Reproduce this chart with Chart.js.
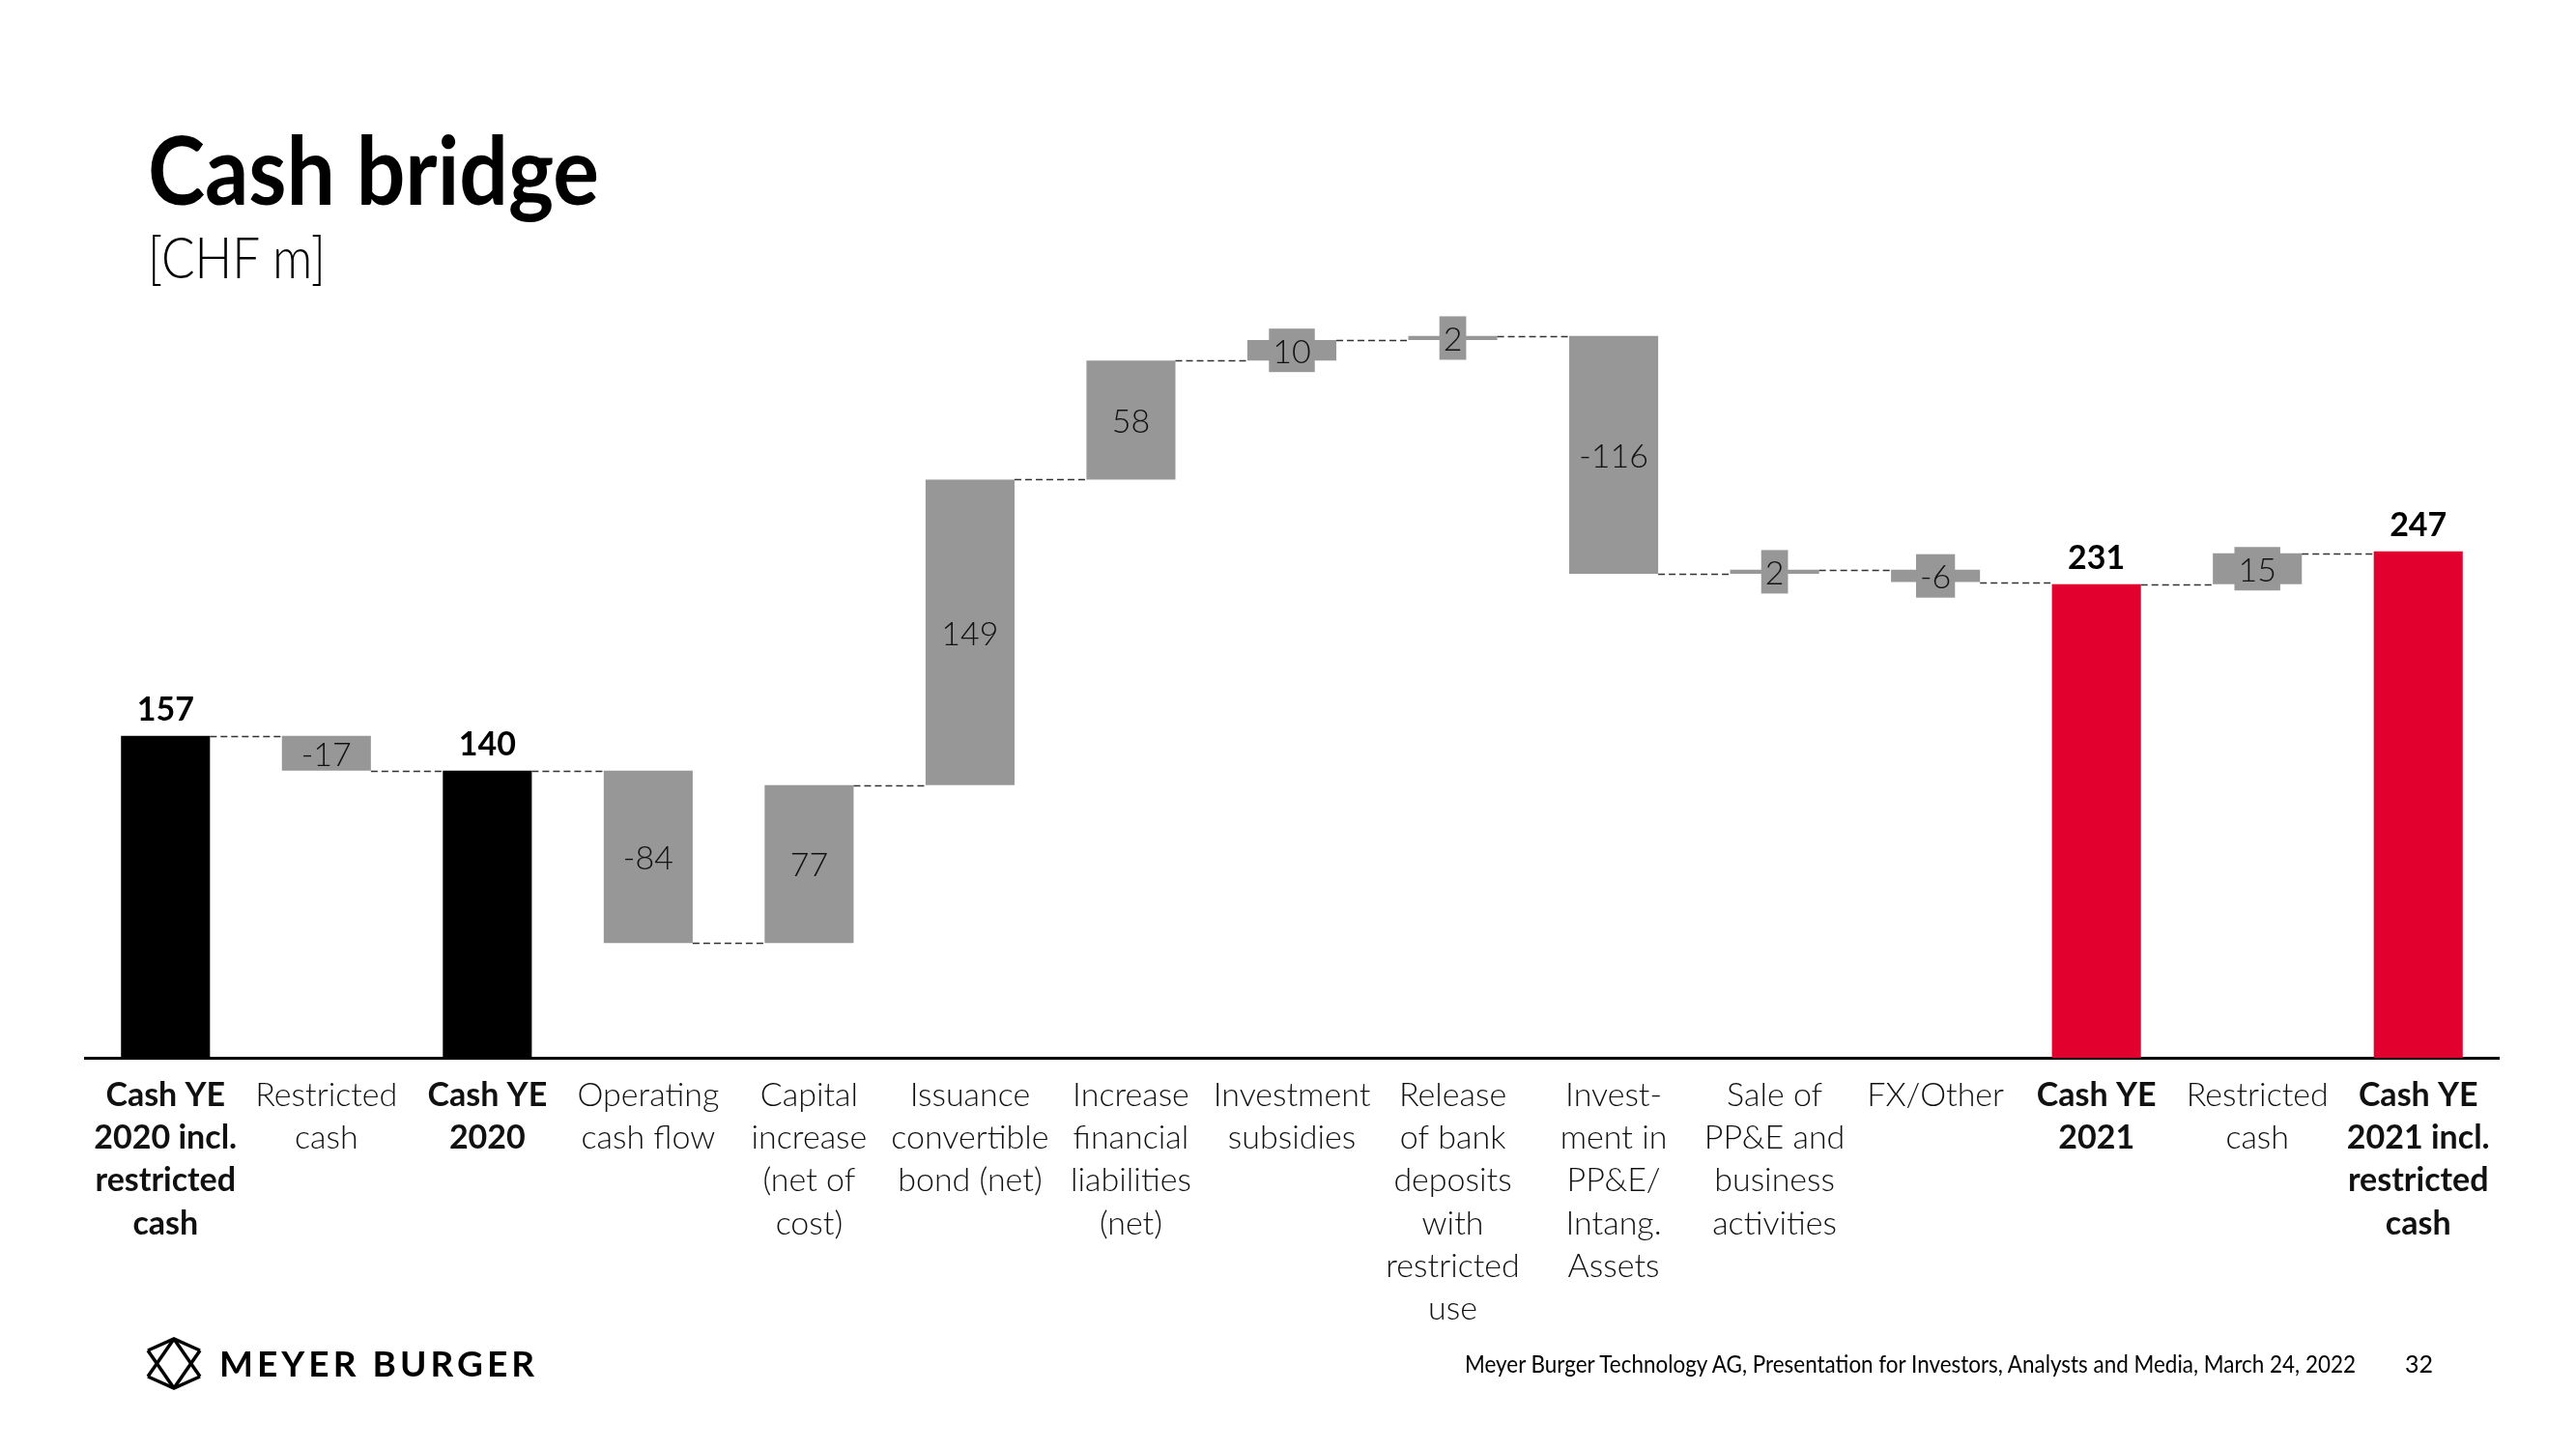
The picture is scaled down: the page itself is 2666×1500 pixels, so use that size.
<!DOCTYPE html>
<html>
<head>
<meta charset="utf-8">
<script src="https://cdn.jsdelivr.net/npm/chart.js@4.4.1/dist/chart.umd.min.js"></script>
<style>
  html, body { margin: 0; padding: 0; background: #fff; }
  #page { position: relative; width: 2666px; height: 1500px; overflow: hidden; }
  #chartBox { position: absolute; left: 0; top: 0; width: 2666px; height: 1500px; }
  #overlay { position: absolute; left: 0; top: 0; pointer-events: none; }
</style>
</head>
<body>
<div id="page">
  <div id="chartBox"><canvas id="bridgeChart"></canvas></div>
  <svg id="overlay" width="2666" height="1500">
    <text x="153" y="212" font-family="Lato" font-weight="700" font-size="97" fill="#000" textLength="467" lengthAdjust="spacingAndGlyphs">Cash bridge</text>
    <text x="153" y="288" font-family="Lato" font-weight="300" font-size="60" fill="#000" textLength="184" lengthAdjust="spacingAndGlyphs">[CHF m]</text>
    <g fill="none" stroke="#000" stroke-width="3.5" stroke-linejoin="miter">
      <polyline points="153,1398 180,1386 207,1398"/>
      <polyline points="153,1425 180,1437 207,1425"/>
      <line x1="153" y1="1398" x2="180" y2="1437"/>
      <line x1="180" y1="1386" x2="153" y2="1425"/>
      <line x1="180" y1="1386" x2="207" y2="1425"/>
      <line x1="207" y1="1398" x2="180" y2="1437"/>
    </g>
    <text x="227" y="1425" font-family="Lato" font-weight="700" font-size="37" fill="#000" textLength="326" lengthAdjust="spacing">MEYER BURGER</text>
    <text x="1516" y="1421" font-family="Lato" font-weight="400" font-size="25" fill="#000" textLength="922" lengthAdjust="spacingAndGlyphs">Meyer Burger Technology AG, Presentation for Investors, Analysts and Media, March 24, 2022</text>
    <text x="2489" y="1421" font-family="Lato" font-weight="400" font-size="25" fill="#000">32</text>
  </svg>
</div>
<script>
// categories (multi-line x labels)
const categories = [
    ['Cash YE', '2020 incl.', 'restricted', 'cash'],
    ['Restricted', 'cash'],
    ['Cash YE', '2020'],
    ['Operating', 'cash flow'],
    ['Capital', 'increase', '(net of', 'cost)'],
    ['Issuance', 'convertible', 'bond (net)'],
    ['Increase', 'financial', 'liabilities', '(net)'],
    ['Investment', 'subsidies'],
    ['Release', 'of bank', 'deposits', 'with', 'restricted', 'use'],
    ['Invest-', 'ment in', 'PP&E/', 'Intang.', 'Assets'],
    ['Sale of', 'PP&E and', 'business', 'activities'],
    ['FX/Other'],
    ['Cash YE', '2021'],
    ['Restricted', 'cash'],
    ['Cash YE', '2021 incl.', 'restricted', 'cash']
];

// CHF m: totals are absolute levels, the rest are changes
const values = [157, -17, 140, -84, 77, 149, 58, 10, 2, -116, 2, -6, 231, 15, 247];
const isTotal = [true, false, true, false, false, false, false, false, false, false, false, false, true, false, true];
const totalYear = [2020, null, 2020, null, null, null, null, null, null, null, null, null, 2021, null, 2021];

const yMin = 0;
const yMax = 375;

// build floating bars
const bars = [];
const ends = [];
let running = 0;
values.forEach((v, i) => {
    if (isTotal[i]) {
        bars.push([0, v]);
        running = v;
    } else {
        bars.push([running, running + v]);
        running += v;
    }
    ends.push(running);
});

const colors = values.map((v, i) => {
    if (!isTotal[i]) return '#979797';
    return totalYear[i] === 2021 ? '#e2002f' : '#000000';
});

const FONT = 'Lato';
const GRAY = '#979797';

const bridgePlugin = {
    id: 'bridge',
    afterDatasetsDraw(chart) {
        const ctx = chart.ctx;
        const yScale = chart.scales.y;
        const meta = chart.getDatasetMeta(0);

        // dashed connectors
        ctx.save();
        ctx.setLineDash([7, 4]);
        ctx.strokeStyle = '#333';
        ctx.lineWidth = 1.5;
        for (let i = 0; i < meta.data.length - 1; i++) {
            const a = meta.data[i].getProps(['x', 'width'], true);
            const b = meta.data[i + 1].getProps(['x', 'width'], true);
            const level = Math.round(yScale.getPixelForValue(ends[i])) + 0.5;
            ctx.beginPath();
            ctx.moveTo(a.x + a.width / 2, level);
            ctx.lineTo(b.x - b.width / 2, level);
            ctx.stroke();
        }
        ctx.restore();

        // value labels
        ctx.save();
        ctx.textAlign = 'center';
        ctx.textBaseline = 'middle';
        meta.data.forEach((el, i) => {
            const p = el.getProps(['x', 'y', 'base'], true);
            const label = String(values[i]);
            if (isTotal[i]) {
                ctx.font = 'bold 34px ' + FONT;
                ctx.fillStyle = '#000';
                ctx.fillText(label, p.x, Math.min(p.y, p.base) - 27);
            } else {
                ctx.font = '300 34px ' + FONT;
                const cy = (p.y + p.base) / 2;
                const h = Math.abs(p.base - p.y);
                // small bars get a gray box behind the number
                if (h < 34) {
                    const w = ctx.measureText(label).width + 8;
                    ctx.fillStyle = GRAY;
                    ctx.fillRect(p.x - w / 2, cy - 22.5, w, 45);
                }
                ctx.fillStyle = '#111';
                ctx.fillText(label, p.x, cy + 2);
            }
        });
        ctx.restore();
    }
};

const chartCtx = document.getElementById('bridgeChart').getContext('2d');
new Chart(chartCtx, {
    type: 'bar',
    data: {
        labels: categories,
        datasets: [{
            data: bars,
            backgroundColor: colors,
            borderWidth: 0,
            categoryPercentage: 1,
            barPercentage: 0.553
        }]
    },
    options: {
        responsive: true,
        maintainAspectRatio: false,
        animation: false,
        layout: {
            padding: { left: 88, right: 80, top: 299, bottom: 0 }
        },
        scales: {
            x: {
                grid: { display: false },
                border: { display: true, color: '#000', width: 3 },
                afterFit: (scale) => { scale.height = 405; },
                ticks: {
                    autoSkip: false,
                    maxRotation: 0,
                    minRotation: 0,
                    padding: 9,
                    color: '#111',
                    font: (c) => ({
                        family: FONT,
                        size: 34,
                        lineHeight: 1.3,
                        weight: isTotal[c.index] ? 'bold' : '300'
                    })
                }
            },
            y: {
                display: false,
                min: yMin,
                max: yMax
            }
        },
        plugins: {
            legend: { display: false },
            tooltip: { enabled: false }
        }
    },
    plugins: [bridgePlugin]
});
</script>
</body>
</html>
